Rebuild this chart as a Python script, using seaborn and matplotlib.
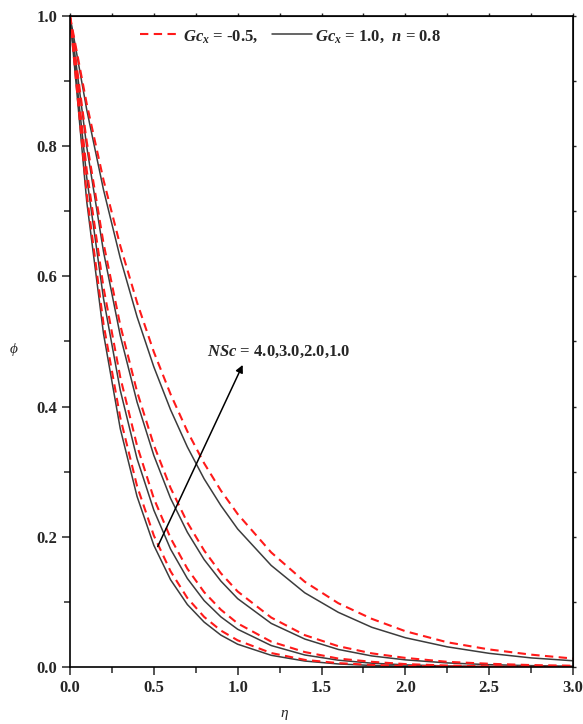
import matplotlib
matplotlib.use("Agg")
import matplotlib.pyplot as plt
from matplotlib.lines import Line2D
from matplotlib.ticker import MultipleLocator, FormatStrFormatter
import pandas as pd
import seaborn as sns

# values
eta = [0.0, 0.1, 0.2, 0.3, 0.4, 0.5, 0.6, 0.7, 0.8, 0.9, 1.0,
       1.2, 1.4, 1.6, 1.8, 2.0, 2.25, 2.5, 2.75, 3.0]

nsc_values = [1.0, 2.0, 3.0, 4.0]

# Gc_x = -0.5 (red dashed)
phi_neg_nsc1 = [1.0, 0.865, 0.748, 0.647, 0.560, 0.484, 0.419, 0.362, 0.313, 0.271, 0.235,
                0.176, 0.131, 0.098, 0.074, 0.055, 0.038, 0.027, 0.019, 0.013]
phi_neg_nsc2 = [1.0, 0.807, 0.651, 0.525, 0.423, 0.341, 0.275, 0.222, 0.179, 0.144, 0.116,
                0.076, 0.049, 0.032, 0.021, 0.014, 0.008, 0.005, 0.003, 0.002]
phi_neg_nsc3 = [1.0, 0.763, 0.583, 0.445, 0.340, 0.259, 0.198, 0.151, 0.115, 0.088, 0.067,
                0.039, 0.023, 0.013, 0.008, 0.0045, 0.0023, 0.0012, 0.0006, 0.0003]
phi_neg_nsc4 = [1.0, 0.726, 0.527, 0.383, 0.278, 0.202, 0.147, 0.106, 0.077, 0.056, 0.041,
                0.0215, 0.011, 0.006, 0.0032, 0.0017, 0.0007, 0.0003, 0.0002, 0.0001]

# Gc_x = 1.0 (grey solid)
phi_pos_nsc1 = [1.0, 0.856, 0.733, 0.628, 0.538, 0.461, 0.395, 0.338, 0.289, 0.248, 0.212,
                0.156, 0.114, 0.084, 0.061, 0.045, 0.031, 0.021, 0.014, 0.0096]
phi_pos_nsc2 = [1.0, 0.799, 0.638, 0.509, 0.407, 0.325, 0.259, 0.207, 0.165, 0.132, 0.105,
                0.067, 0.043, 0.027, 0.017, 0.011, 0.0063, 0.0036, 0.0021, 0.0012]
phi_pos_nsc3 = [1.0, 0.752, 0.566, 0.425, 0.320, 0.241, 0.181, 0.136, 0.102, 0.077, 0.058,
                0.033, 0.0185, 0.0105, 0.0059, 0.0033, 0.0016, 0.0008, 0.0004, 0.0002]
phi_pos_nsc4 = [1.0, 0.715, 0.512, 0.366, 0.262, 0.187, 0.134, 0.096, 0.069, 0.049, 0.035,
                0.018, 0.0092, 0.0047, 0.0024, 0.0012, 0.0005, 0.0002, 0.0001, 0.0]

neg_curves = [phi_neg_nsc1, phi_neg_nsc2, phi_neg_nsc3, phi_neg_nsc4]
pos_curves = [phi_pos_nsc1, phi_pos_nsc2, phi_pos_nsc3, phi_pos_nsc4]

rows = []
for nsc, ys in zip(nsc_values, pos_curves):
    for x, y in zip(eta, ys):
        rows.append({"eta": x, "phi": y, "NSc": nsc, "Gc": "1.0"})
for nsc, ys in zip(nsc_values, neg_curves):
    for x, y in zip(eta, ys):
        rows.append({"eta": x, "phi": y, "NSc": nsc, "Gc": "-0.5"})
df = pd.DataFrame(rows)

sns.set_style("white")
plt.rcParams["font.family"] = ["Liberation Serif", "DejaVu Serif"]
plt.rcParams["mathtext.fontset"] = "custom"
plt.rcParams["mathtext.it"] = "Liberation Serif:italic:bold"
plt.rcParams["mathtext.rm"] = "Liberation Serif:bold"
plt.rcParams["mathtext.bf"] = "Liberation Serif:bold"

red = "#ff1a1a"
grey = "#3c3c3c"

fig = plt.figure(figsize=(5.83, 7.24), dpi=100)
ax = fig.add_axes([0.120, 0.0787, 0.863, 0.8993])

for nsc in nsc_values:
    sub = df[(df["Gc"] == "1.0") & (df["NSc"] == nsc)]
    sns.lineplot(data=sub, x="eta", y="phi", ax=ax, color=grey, lw=1.1,
                 estimator=None, sort=False, legend=False)
for nsc in nsc_values:
    sub = df[(df["Gc"] == "-0.5") & (df["NSc"] == nsc)]
    sns.lineplot(data=sub, x="eta", y="phi", ax=ax, color=red, lw=1.5,
                 estimator=None, sort=False, legend=False, dashes=False)
for line in ax.lines[4:]:
    line.set_dashes([4, 2.6])

ax.set_xlim(0, 3.0)
ax.set_ylim(0, 1.0)
ax.xaxis.set_major_locator(MultipleLocator(0.5))
ax.xaxis.set_minor_locator(MultipleLocator(0.25))
ax.yaxis.set_major_locator(MultipleLocator(0.2))
ax.yaxis.set_minor_locator(MultipleLocator(0.1))
ax.xaxis.set_major_formatter(FormatStrFormatter("%.1f"))
ax.yaxis.set_major_formatter(FormatStrFormatter("%.1f"))
ax.tick_params(which="major", direction="out", length=5.5, width=1.1,
               labelsize=12, bottom=True, left=True)
ax.tick_params(which="minor", direction="out", length=4, width=1.1,
               bottom=True, left=True)
for lab in ax.get_xticklabels() + ax.get_yticklabels():
    lab.set_fontweight("bold")
for sp in ax.spines.values():
    sp.set_visible(True)
    sp.set_color("black")
    sp.set_linewidth(1.2)

# small ticks on top and right
top = ax.secondary_xaxis("top")
top.xaxis.set_major_locator(MultipleLocator(0.25))
top.tick_params(direction="out", length=2, width=1, labeltop=False)
right = ax.secondary_yaxis("right")
right.yaxis.set_major_locator(MultipleLocator(0.1))
right.tick_params(direction="out", length=2, width=1, labelright=False)

ax.set_xlabel("η", fontstyle="italic", fontsize=11)
ax.xaxis.set_label_coords(0.425, -0.072)
ax.xaxis.label.set_va("center")
ax.set_ylabel("ϕ", fontstyle="italic", fontsize=11, rotation=0)
ax.yaxis.set_label_coords(-0.113, 0.487)
ax.yaxis.label.set_va("center")

handles = [Line2D([], [], color=red, lw=1.5, dashes=[4, 2.6]),
           Line2D([], [], color=grey, lw=1.1)]
labels = [r"$Gc_x$ = -0.5,", r"$Gc_x$ = 1.0,  $n$ = 0.8"]
leg = ax.legend(handles, labels, loc="center left", bbox_to_anchor=(0.139, 0.969),
                ncol=2, frameon=False, handlelength=2.4, handletextpad=0.2,
                columnspacing=0.8, borderaxespad=0, borderpad=0,
                prop={"weight": "bold", "size": 12})

ax.annotate("", xy=(1.03, 0.464), xytext=(0.523, 0.185),
            arrowprops=dict(arrowstyle="-|>", color="black", lw=1.1,
                            mutation_scale=11, shrinkA=0, shrinkB=0))
ax.text(0.815, 0.484, r"$NSc$ = 4.0,3.0,2.0,1.0", fontsize=12, fontweight="bold",
        ha="left", va="center")

fig.savefig("out.png", dpi=100)
